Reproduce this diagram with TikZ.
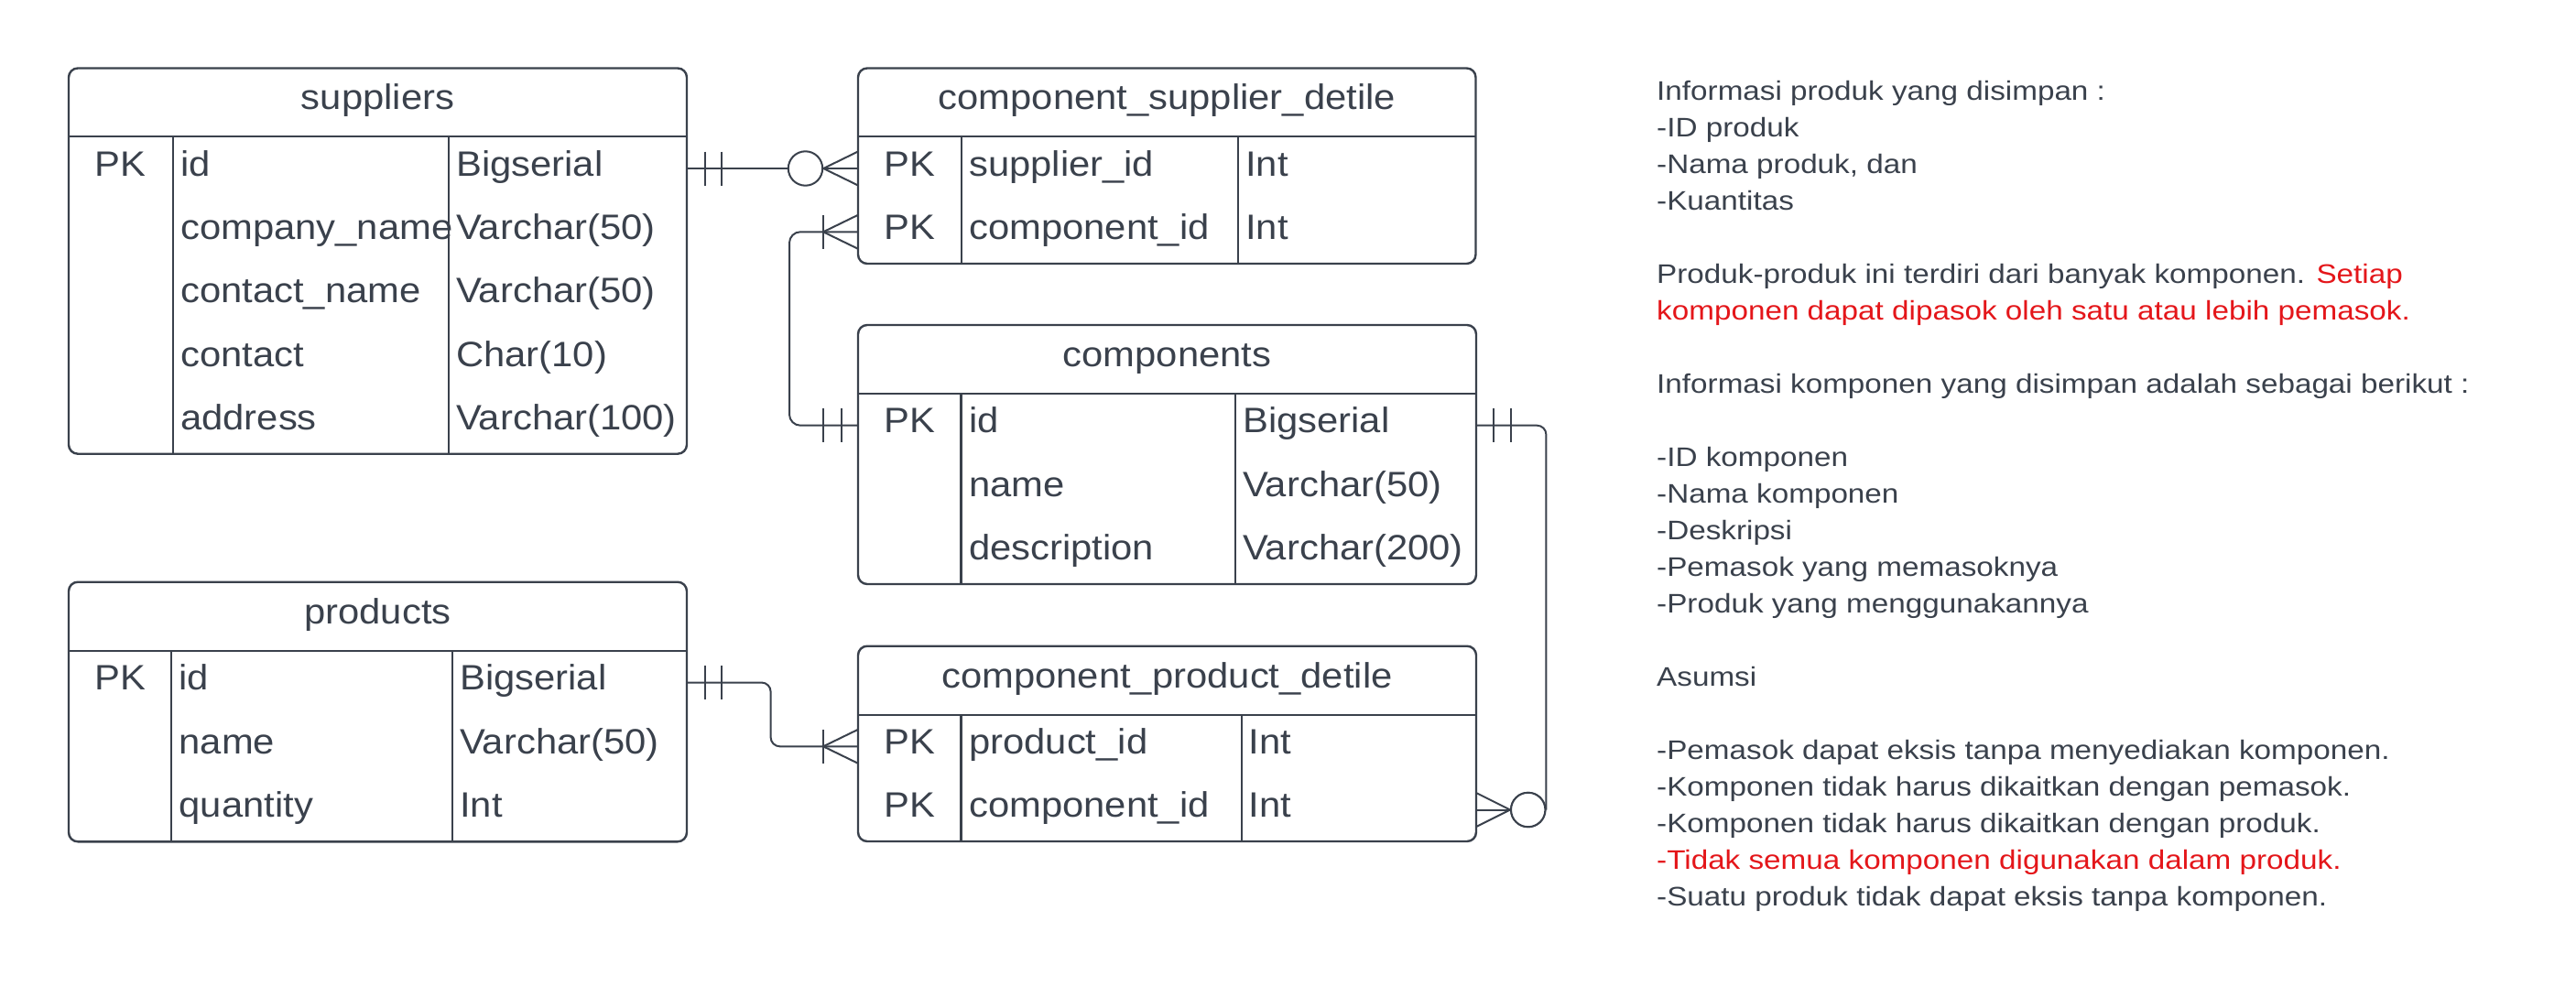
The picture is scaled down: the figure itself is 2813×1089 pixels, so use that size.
\documentclass[tikz,border=0pt]{standalone}
\usepackage{fontspec}
\setmainfont{Liberation Sans}
\newfontfamily\tabfont[FakeStretch=1.085]{Liberation Sans}
\newfontfamily\notefont[FakeStretch=1.135]{Liberation Sans}
\definecolor{ink}{RGB}{58,65,76}
\definecolor{redtxt}{RGB}{228,22,26}
\tikzset{
  tbl/.style={draw=ink, line width=2.4pt, rounded corners=10pt},
  sepline/.style={draw=ink, line width=2.2pt},
  cell/.style={anchor=base west, inner sep=0pt, text=ink, font=\tabfont\fontsize{38.5}{46}\selectfont},
  pkcell/.style={anchor=base, inner sep=0pt, text=ink, font=\tabfont\fontsize{38.5}{46}\selectfont},
  ttl/.style={anchor=base, inner sep=0pt, text=ink, font=\tabfont\fontsize{38.5}{46}\selectfont},
  note/.style={anchor=base west, inner sep=0pt, text=ink, font=\notefont\fontsize{29.3}{40}\selectfont},
  conn/.style={draw=ink, line width=2pt},
  zero/.style={circle, draw=ink, line width=2pt, fill=white, minimum size=37.4pt, inner sep=0pt},
}
\begin{document}
\begin{tikzpicture}[x=1pt,y=-1pt]
\useasboundingbox (0,0) rectangle (2813,1089);
\fill[white] (0,0) rectangle (2813,1089);

% ---------- suppliers ----------
\draw[tbl] (75,74.5) rectangle (750,495.7);
\draw[sepline] (75,149.3) -- (750,149.3);
\draw[sepline] (188.6,149.3) -- (188.6,495.7);
\draw[sepline] (490,149.3) -- (490,495.7);
\node[ttl] (supT) at (412.5,120) {suppliers};
\node[pkcell] (supPK) at (131.8,192) {PK};
\node[cell] (supN1) at (197,192) {id};
\node[cell] (supN2) at (197,261.3) {company\_name};
\node[cell] (supN3) at (197,330.6) {contact\_name};
\node[cell] (supN4) at (197,400) {contact};
\node[cell] (supN5) at (197,469.2) {address};
\node[cell] (supY1) at (498,192) {Bigserial};
\node[cell] (supY2) at (498,261.3) {Varchar(50)};
\node[cell] (supY3) at (498,330.6) {Varchar(50)};
\node[cell] (supY4) at (498,400) {Char(10)};
\node[cell] (supY5) at (498,469.2) {Varchar(100)};

% ---------- component_supplier_detile ----------
\draw[tbl] (937,74.5) rectangle (1611.5,288);
\draw[sepline] (937,149.3) -- (1611.5,149.3);
\draw[sepline] (1049.7,149.3) -- (1049.7,288);
\draw[sepline] (1352,149.3) -- (1352,288);
\node[ttl] (csdT) at (1274.3,120) {component\_supplier\_detile};
\node[pkcell] (csdPK1) at (993.4,192) {PK};
\node[pkcell] (csdPK2) at (993.4,261.3) {PK};
\node[cell] (csdN1) at (1058,192) {supplier\_id};
\node[cell] (csdN2) at (1058,261.3) {component\_id};
\node[cell] (csdY1) at (1360,192) {Int};
\node[cell] (csdY2) at (1360,261.3) {Int};

% ---------- components ----------
\draw[tbl] (937,355) rectangle (1612,638);
\draw[sepline] (937,430) -- (1612,430);
\draw[sepline] (1049.5,430) -- (1049.5,638);
\draw[sepline] (1349,430) -- (1349,638);
\node[ttl] (cmpT) at (1274.5,400.5) {components};
\node[pkcell] (cmpPK) at (993.3,472.7) {PK};
\node[cell] (cmpN1) at (1058,472.7) {id};
\node[cell] (cmpN2) at (1058,542) {name};
\node[cell] (cmpN3) at (1058,611.3) {description};
\node[cell] (cmpY1) at (1357,472.7) {Bigserial};
\node[cell] (cmpY2) at (1357,542) {Varchar(50)};
\node[cell] (cmpY3) at (1357,611.3) {Varchar(200)};

% ---------- products ----------
\draw[tbl] (75,635.7) rectangle (750,919.3);
\draw[sepline] (75,710.7) -- (750,710.7);
\draw[sepline] (187.2,710.7) -- (187.2,919.3);
\draw[sepline] (494,710.7) -- (494,919.3);
\node[ttl] (prdT) at (412.5,681.2) {products};
\node[pkcell] (prdPK) at (131.1,753.5) {PK};
\node[cell] (prdN1) at (195.5,753.5) {id};
\node[cell] (prdN2) at (195.5,823) {name};
\node[cell] (prdN3) at (195.5,892.6) {quantity};
\node[cell] (prdY1) at (502,753.5) {Bigserial};
\node[cell] (prdY2) at (502,823) {Varchar(50)};
\node[cell] (prdY3) at (502,892.6) {Int};

% ---------- component_product_detile ----------
\draw[tbl] (937,705.7) rectangle (1612,919);
\draw[sepline] (937,780.7) -- (1612,780.7);
\draw[sepline] (1049.5,780.7) -- (1049.5,919);
\draw[sepline] (1355.6,780.7) -- (1355.6,919);
\node[ttl] (cpdT) at (1274.5,751.2) {component\_product\_detile};
\node[pkcell] (cpdPK1) at (993.3,823.3) {PK};
\node[pkcell] (cpdPK2) at (993.3,892.6) {PK};
\node[cell] (cpdN1) at (1058,823.3) {product\_id};
\node[cell] (cpdN2) at (1058,892.6) {component\_id};
\node[cell] (cpdY1) at (1363.5,823.3) {Int};
\node[cell] (cpdY2) at (1363.5,892.6) {Int};

% ---------- connector end points ----------
\coordinate (s1) at (750,184);
\coordinate (c1) at (937,184);
\coordinate (comp1w) at (937,464.7);
\coordinate (csd2w) at (937,253.3);
\coordinate (comp1e) at (1612,464.7);
\coordinate (cpd2e) at (1612,884.5);
\coordinate (prod1e) at (750,745.5);
\coordinate (cpd1w) at (937,815.3);

% C1: suppliers.id -> component_supplier_detile.supplier_id
\node[zero] (o1) at (879.5,184) {};
\draw[conn] (s1) -- (o1.west);
\draw[conn] ([xshift=19.5pt,yshift=18.5pt]s1) -- ([xshift=19.5pt,yshift=-18.5pt]s1);
\draw[conn] ([xshift=38pt,yshift=18.5pt]s1) -- ([xshift=38pt,yshift=-18.5pt]s1);
\draw[conn] ([yshift=18.5pt]c1) -- (o1.east) -- ([yshift=-18.5pt]c1);
\draw[conn] (o1.east) -- (c1);

% C2: components.id -> component_supplier_detile.component_id
\draw[conn, rounded corners=12pt] (comp1w) -- ++(-75,0) |- (csd2w);
\draw[conn] ([xshift=-18.5pt,yshift=18.5pt]comp1w) -- ([xshift=-18.5pt,yshift=-18.5pt]comp1w);
\draw[conn] ([xshift=-38pt,yshift=18.5pt]comp1w) -- ([xshift=-38pt,yshift=-18.5pt]comp1w);
\draw[conn] ([xshift=-38pt,yshift=18.5pt]csd2w) -- ([xshift=-38pt,yshift=-18.5pt]csd2w);
\draw[conn] ([yshift=18.5pt]csd2w) -- ([xshift=-38pt]csd2w) -- ([yshift=-18.5pt]csd2w);

% C3: components.id -> component_product_detile.component_id
\node[zero] (o2) at (1668.7,884.5) {};
\draw[conn, rounded corners=10pt] (comp1e) -| (o2.east);
\draw[conn] ([xshift=18.7pt,yshift=18.5pt]comp1e) -- ([xshift=18.7pt,yshift=-18.5pt]comp1e);
\draw[conn] ([xshift=38pt,yshift=18.5pt]comp1e) -- ([xshift=38pt,yshift=-18.5pt]comp1e);
\draw[conn] ([yshift=18.5pt]cpd2e) -- (o2.west) -- ([yshift=-18.5pt]cpd2e);
\draw[conn] (o2.west) -- (cpd2e);
\node[zero] at (o2) {};

% C4: products.id -> component_product_detile.product_id
\draw[conn, rounded corners=10pt] (prod1e) -- ++(91.6,0) |- (cpd1w);
\draw[conn] ([xshift=20pt,yshift=18.5pt]prod1e) -- ([xshift=20pt,yshift=-18.5pt]prod1e);
\draw[conn] ([xshift=38pt,yshift=18.5pt]prod1e) -- ([xshift=38pt,yshift=-18.5pt]prod1e);
\draw[conn] ([xshift=-38pt,yshift=18.5pt]cpd1w) -- ([xshift=-38pt,yshift=-18.5pt]cpd1w);
\draw[conn] ([yshift=18.5pt]cpd1w) -- ([xshift=-38pt]cpd1w) -- ([yshift=-18.5pt]cpd1w);

% ---------- notes ----------
\node[note] (t0) at (1809,109.5) {Informasi produk yang disimpan :};
\node[note] (t1) at (1809,149.5) {-ID produk};
\node[note] (t2) at (1809,189.5) {-Nama produk, dan};
\node[note] (t3) at (1809,229.6) {-Kuantitas};
\node[note] (t5) at (1809,309.6) {Produk-produk ini terdiri dari banyak komponen. \textcolor{redtxt}{Setiap}};
\node[note, text=redtxt] (t6) at (1809,349.6) {komponen dapat dipasok oleh satu atau lebih pemasok.};
\node[note] (t8) at (1809,429.7) {Informasi komponen yang disimpan adalah sebagai berikut :};
\node[note] (t10) at (1809,509.7) {-ID komponen};
\node[note] (t11) at (1809,549.7) {-Nama komponen};
\node[note] (t12) at (1809,589.7) {-Deskripsi};
\node[note] (t13) at (1809,629.8) {-Pemasok yang memasoknya};
\node[note] (t14) at (1809,669.8) {-Produk yang menggunakannya};
\node[note] (t16) at (1809,749.8) {Asumsi};
\node[note] (t18) at (1809,829.9) {-Pemasok dapat eksis tanpa menyediakan komponen.};
\node[note] (t19) at (1809,869.9) {-Komponen tidak harus dikaitkan dengan pemasok.};
\node[note] (t20) at (1809,909.9) {-Komponen tidak harus dikaitkan dengan produk.};
\node[note, text=redtxt] (t21) at (1809,949.9) {-Tidak semua komponen digunakan dalam produk.};
\node[note] (t22) at (1809,989.9) {-Suatu produk tidak dapat eksis tanpa komponen.};
\end{tikzpicture}
\end{document}
